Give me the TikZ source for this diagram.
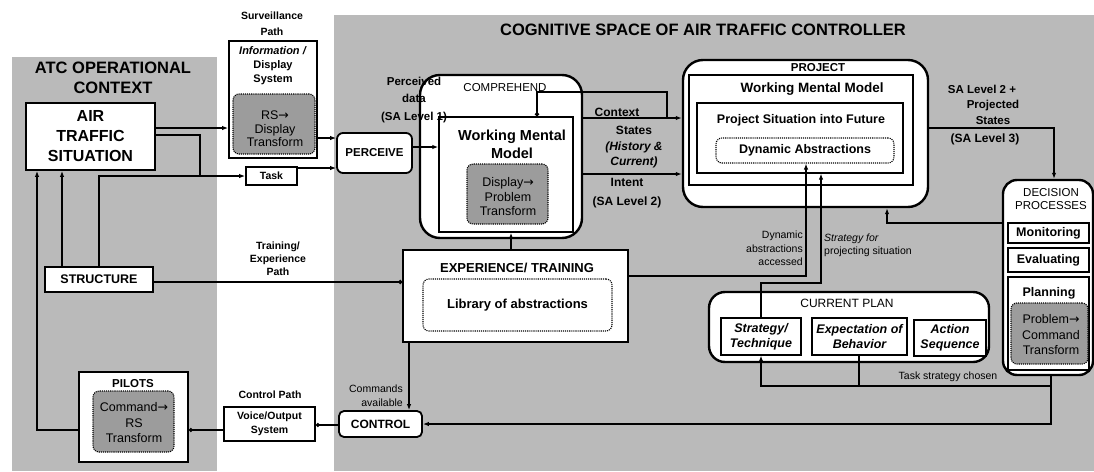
\documentclass[tikz,border=0pt]{standalone}
\usepackage{fontspec}
\setmainfont{Liberation Sans}
\newfontfamily\symf{DejaVu Sans}
\usetikzlibrary{arrows.meta,fit}

\definecolor{bggray}{RGB}{186,186,186}
\definecolor{ingray}{RGB}{156,156,156}
\newcommand{\fs}[2]{\fontsize{#1}{#2}\selectfont}
\newcommand{\rarr}{{\symf →}}

\begin{document}
\begin{tikzpicture}[x=1pt,y=-1pt,
  box/.style={draw, fill=white, line width=1.8pt, inner sep=0pt},
  inbox/.style={box, line width=1.4pt},
  roundbox/.style={box, line width=2.4pt, rounded corners=#1},
  dashbox/.style={draw, fill=white, densely dotted, line width=1.1pt, rounded corners=6pt, inner sep=0pt},
  graybox/.style={dashbox, fill=ingray},
  lab/.style={inner sep=0pt, align=center},
  ln/.style={line width=1.6pt},
  arr/.style={ln, -{Latex[length=6pt,width=4.5pt]}},
  dotend/.style={ln, -{Circle[length=4pt]}}
]
\useasboundingbox (0,0) rectangle (1094,471);
\fill[white] (0,0) rectangle (1094,471);

% shaded regions
\fill[bggray] (12,57) rectangle (217,471);
\fill[bggray] (334,15) rectangle (1094,471);

% region titles
\node[lab, font=\fs{16.5}{20}\bfseries] (atctitle) at (113,78) {ATC OPERATIONAL\\CONTEXT};
\node[lab, font=\fs{16.5}{20}\bfseries] (cogtitle) at (703,30) {COGNITIVE SPACE OF AIR TRAFFIC CONTROLLER};

% operational context
\node[box, fit={(26,103)(155,170)}] (ats) {};
\node[lab, font=\fs{16}{20}\bfseries] (atst) at (ats) {AIR\\TRAFFIC\\SITUATION};
\node[box, fit={(45,267)(153,292)}] (struct) {};
\node[lab, font=\fs{12.5}{14}\bfseries] (structt) at (struct) {STRUCTURE};
\node[box, fit={(79,372)(188,462)}] (pil) {};
\node[lab, font=\fs{11.5}{13}\bfseries] (pilt) at (133,384) {PILOTS};
\node[graybox, fit={(93,391)(174,452)}] (crs) {};
\node[lab, font=\fs{12.5}{15.5}] (crst) at (134,423) {Command\rarr\\RS\\Transform};

% surveillance path
\node[lab, font=\fs{10.5}{16}\bfseries] (survt) at (272,24) {Surveillance\\Path};
\node[box, fit={(229,41)(317,158)}] (info) {};
\node[lab, font=\fs{11}{14}\bfseries] (infot) at (273,66) {\textit{Information /}\\Display\\System};
\node[graybox, fit={(233,94)(315,154)}] (rsd) {};
\node[lab, font=\fs{12.5}{13.5}] (rsdt) at (275,129) {RS\rarr\\Display\\Transform};
\node[box, fit={(246,167)(297,185)}] (task) {};
\node[lab, font=\fs{10.5}{12}\bfseries] (taskt) at (task) {Task};

% training and control paths
\node[lab, font=\fs{10.5}{13}\bfseries] (trainl) at (278,259) {Training/\\Experience\\Path};
\node[lab, font=\fs{10.5}{13}\bfseries] (ctrlpl) at (270,395) {Control Path};
\node[box, fit={(224,407)(315,441)}] (voice) {};
\node[lab, font=\fs{10.5}{14}\bfseries] (voicet) at (voice) {Voice/Output\\System};

% perceive and comprehend
\node[box, rounded corners=6pt, fit={(337,133)(412,173)}] (perc) {};
\node[lab, font=\fs{11.5}{13}\bfseries] (perct) at (perc) {PERCEIVE};
\node[roundbox=20pt, fit={(420,75)(582,238)}] (comp) {};
\node[lab, font=\fs{11.5}{13}] (compt) at (505,88) {COMPREHEND};
\node[inbox, fit={(439,117)(573,232)}] (wmm) {};
\node[lab, font=\fs{14.5}{18}\bfseries] (wmmt) at (512,144) {Working Mental\\Model};
\node[graybox, fit={(467,164)(548,224)}] (dpt) {};
\node[lab, font=\fs{12.5}{14.5}] (dptt) at (508,197) {Display\rarr\\Problem\\Transform};
\node[lab, font=\fs{11.5}{17.5}\bfseries] (sa1) at (414,100) {Perceived\\data\\(SA Level 1)};

% comprehension outputs
\node[lab, font=\fs{12}{14}\bfseries] (ctxl) at (617,112) {Context};
\node[lab, font=\fs{12}{15.5}\bfseries] (statesl) at (634,147.5) {States\\\textit{(History \&}\\\textit{Current)}};
\node[lab, font=\fs{12}{14}\bfseries] (intl) at (627,182) {Intent};
\node[lab, font=\fs{12}{14}\bfseries] (sa2) at (627,202) {(SA Level 2)};

% experience / training
\node[inbox, fit={(403,250)(628,342)}] (exp) {};
\node[lab, font=\fs{13}{15}\bfseries] (expt) at (517,268) {EXPERIENCE/ TRAINING};
\node[dashbox, fit={(423,279)(612,331)}] (lib) {};
\node[lab, font=\fs{13}{15}\bfseries] (libt) at (lib) {Library of abstractions};
\node[box, rounded corners=5pt, fit={(339,411)(422,437)}] (ctrl) {};
\node[lab, font=\fs{12}{14}\bfseries] (ctrlt) at (ctrl) {CONTROL};
\node[lab, font=\fs{10.5}{14}, anchor=east, align=right] (cmdl) at (403,396) {Commands\\available};

% project
\node[roundbox=20pt, fit={(683,60)(928,207)}] (proj) {};
\node[lab, font=\fs{11.5}{13}\bfseries] (projt) at (818,68) {PROJECT};
\node[inbox, fit={(689,75)(913,185)}] (wmm2) {};
\node[lab, font=\fs{13.5}{15}\bfseries] (wmm2t) at (812,89) {Working Mental Model};
\node[inbox, line width=1.2pt, fit={(697,103)(903,173)}] (psf) {};
\node[lab, font=\fs{12.5}{14}\bfseries] (psft) at (801,120) {Project Situation into Future};
\node[dashbox, fit={(716,138)(894,163)}] (dyn) {};
\node[lab, font=\fs{12.5}{14}\bfseries] (dynt) at (dyn) {Dynamic Abstractions};

\node[lab, font=\fs{11.5}{15}\bfseries] (sa2p) at (982,89) {SA Level 2 +};
\node[lab, font=\fs{11.5}{16}\bfseries] (projst) at (993,112) {Projected\\States};
\node[lab, font=\fs{12}{14}\bfseries] (sa3) at (985,139) {(SA Level 3)};

% decision processes
\node[roundbox=14pt, fit={(1003,180)(1093,375)}] (dec) {};
\node[lab, font=\fs{11.5}{13}] (dect) at (1051,199.5) {DECISION\\PROCESSES};
\node[inbox, fit={(1008,223)(1089,243)}] (mon) {};
\node[lab, font=\fs{12.5}{14}\bfseries] (mont) at (mon) {Monitoring};
\node[inbox, fit={(1008,248)(1089,272)}] (eva) {};
\node[lab, font=\fs{12.5}{14}\bfseries] (evat) at (eva) {Evaluating};
\node[inbox, fit={(1008,277)(1089,370)}] (plan) {};
\node[lab, font=\fs{12.5}{14}\bfseries] (plant) at (1049,293) {Planning};
\node[graybox, fit={(1011,303)(1088,364)}] (pct) {};
\node[lab, font=\fs{12.5}{15.5}] (pctt) at (1051,335) {Problem\rarr\\Command\\Transform};

% current plan
\node[roundbox=16pt, fit={(709,292)(989,362)}] (cp) {};
\node[lab, font=\fs{12}{14}] (cpt) at (847,303) {CURRENT PLAN};
\node[inbox, line width=1.2pt, fit={(721,318)(801,355)}] (st) {};
\node[lab, font=\fs{12.5}{15}\bfseries\itshape] (stt) at (st) {Strategy/\\Technique};
\node[inbox, line width=1.2pt, fit={(812,318)(907,355)}] (eb) {};
\node[lab, font=\fs{12.5}{15}\bfseries\itshape] (ebt) at (eb) {Expectation of\\Behavior};
\node[inbox, line width=1.2pt, fit={(914,320)(986,356)}] (as) {};
\node[lab, font=\fs{12.5}{15}\bfseries\itshape] (ast) at (as) {Action\\Sequence};

\node[lab, font=\fs{10.5}{13.5}, anchor=east, align=right] (dynl) at (803,248.5) {Dynamic\\abstractions\\accessed};
\node[lab, font=\fs{10.5}{13}, anchor=west, align=left] (stratl) at (824,245.5) {\textit{Strategy for}\\projecting situation};
\node[lab, font=\fs{10.5}{13}] (tscl) at (948,377) {Task strategy chosen};

% connectors
\draw[arr] (ats.east |- 0,128) -- (info.west |- 0,128);
\draw[ln] (ats.east |- 0,135) -| (200,176);
\draw[arr] (struct.north -| 99,0) |- (task.west);
\draw[arr] (struct.north -| 62,0) -- (ats.south -| 62,0);
\draw[arr] (pil.west |- 0,430) -| (ats.south -| 37,0);
\draw[arr] (info.east |- 0,138) -- (perc.west |- 0,138);
\draw[arr] (task.east |- 0,168) -- (perc.west |- 0,168);
\draw[arr] (perc.east |- 0,147) -- (wmm.west |- 0,147);
\draw[ln, {Circle[length=4pt]}-] (wmm.north -| 537,0) |- (667,92) -- (667,118);
\draw[arr] (comp.east |- 0,118) -- (proj.west |- 0,118);
\draw[arr] (comp.east |- 0,174) -- (proj.west |- 0,174);
\draw[arr] (proj.east |- 0,128) -| (dec.north -| 1054,0);
\draw[arr] (dec.west |- 0,223) -| (proj.south -| 887,0);
\draw[arr] (exp.north -| 511,0) -- (wmm.south -| 511,0);
\draw[dotend] (struct.east |- 0,282) -- (exp.west |- 0,282);
\draw[arr] (exp.east |- 0,276) -| (dyn.south -| 806,0);
\draw[arr] (st.north -| 761,0) |- (821,283) -- (psf.south -| 821,0);
\draw[arr] (dec.south -| 1051,0) |- (761,386) -- (st.south -| 761,0);
\draw[ln] (eb.south -| 859,0) -- (859,386);
\draw[arr] (dec.south -| 1051,0) |- (ctrl.east |- 0,424);
\draw[arr] (exp.south -| 409,0) -- (ctrl.north -| 409,0);
\draw[dotend] (ctrl.west |- 0,425) -- (voice.east |- 0,425);
\draw[dotend] (voice.west |- 0,430) -- (pil.east |- 0,430);
\end{tikzpicture}
\end{document}
